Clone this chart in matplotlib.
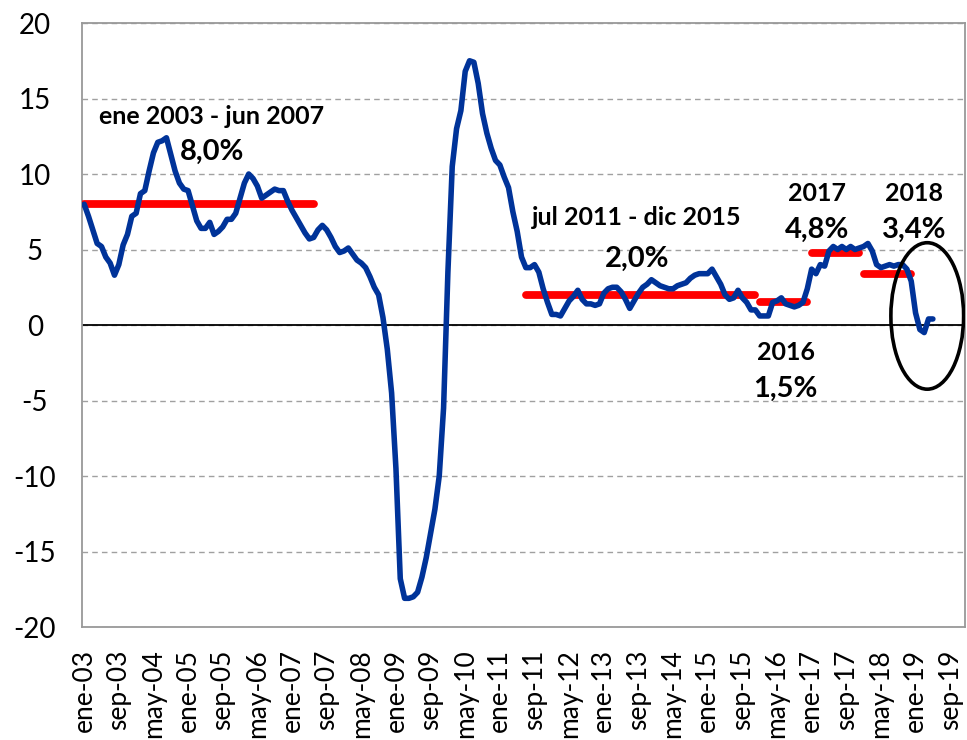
import matplotlib
matplotlib.use("Agg")
import matplotlib.pyplot as plt
from matplotlib.patches import Ellipse

plt.rcParams['font.family'] = ['Lato', 'DejaVu Sans']
plt.rcParams['axes.unicode_minus'] = False

# Monthly values from ene-03 to may-19
values = [
    8.0, 7.2, 6.3, 5.4, 5.2, 4.5, 4.1, 3.3, 4.0, 5.3, 6.0, 7.2,   # 2003
    7.4, 8.7, 8.9, 10.2, 11.4, 12.1, 12.2, 12.4, 11.3, 10.2, 9.4, 9.0,  # 2004
    8.9, 7.9, 6.9, 6.4, 6.4, 6.8, 6.0, 6.2, 6.5, 7.0, 7.0, 7.4,   # 2005
    8.4, 9.4, 10.0, 9.7, 9.2, 8.4, 8.6, 8.8, 9.0, 8.9, 8.9, 8.2,  # 2006
    7.6, 7.1, 6.6, 6.1, 5.7, 5.8, 6.3, 6.6, 6.3, 5.8, 5.2, 4.8,   # 2007
    4.9, 5.1, 4.7, 4.3, 4.1, 3.8, 3.2, 2.5, 2.0, 0.5, -1.6, -4.5,  # 2008
    -9.5, -16.8, -18.1, -18.1, -18.0, -17.7, -16.7, -15.4, -13.8, -12.2, -10.0, -5.5,  # 2009
    3.5, 10.5, 13.0, 14.2, 16.8, 17.5, 17.4, 16.0, 14.0, 12.7, 11.7, 10.9,  # 2010
    10.6, 9.8, 9.1, 7.5, 6.2, 4.5, 3.8, 3.8, 4.0, 3.5, 2.4, 1.5,   # 2011
    0.7, 0.7, 0.6, 1.1, 1.6, 1.9, 2.3, 1.7, 1.4, 1.4, 1.3, 1.4,    # 2012
    2.1, 2.4, 2.5, 2.5, 2.2, 1.7, 1.1, 1.6, 2.1, 2.5, 2.7, 3.0,    # 2013
    2.8, 2.6, 2.5, 2.4, 2.4, 2.6, 2.7, 2.8, 3.1, 3.3, 3.4, 3.4,    # 2014
    3.4, 3.7, 3.2, 2.7, 2.0, 1.7, 1.8, 2.3, 1.8, 1.5, 1.0, 1.0,    # 2015
    0.6, 0.6, 0.6, 1.5, 1.6, 1.8, 1.4, 1.3, 1.2, 1.3, 1.5, 2.4,    # 2016
    3.7, 3.4, 4.0, 3.9, 4.9, 5.2, 5.0, 5.2, 5.0, 5.2, 5.0, 5.1,    # 2017
    5.2, 5.4, 4.9, 4.0, 3.8, 3.9, 4.0, 3.9, 4.0, 4.0, 3.7, 2.9,    # 2018
    0.8, -0.3, -0.5, 0.4, 0.4,                                      # 2019
]

month_names = ['ene', 'feb', 'mar', 'abr', 'may', 'jun', 'jul', 'ago', 'sep', 'oct', 'nov', 'dic']
n_categories = 204  # ene-03 .. dic-19
cat_labels = [f"{month_names[i % 12]}-{(3 + i // 12):02d}" for i in range(n_categories)]
tick_step = 8

# Average periods
avg_starts = [0, 102, 156, 168, 180]
avg_ends = [53, 155, 167, 179, 191]
avg_values = [8.0, 2.0, 1.5, 4.8, 3.4]
avg_titles = ['ene 2003 - jun 2007', 'jul 2011 - dic 2015', '2016', '2017', '2018']
avg_texts = ['8,0%', '2,0%', '1,5%', '4,8%', '3,4%']

fig = plt.figure(figsize=(9.67, 7.40), dpi=100)
ax = fig.add_axes([0.0848, 0.1527, 0.9135, 0.8162])

ax.set_xlim(-0.5, n_categories - 0.5)
ax.set_ylim(-20, 20)
ax.set_yticks(range(-20, 21, 5))
ax.yaxis.grid(True, linestyle=(0, (4, 3)), color='#a0a0a0', linewidth=1.0)
ax.set_axisbelow(True)
ax.axhline(0, color='black', linewidth=1.3, zorder=2)

for sp in ax.spines.values():
    sp.set_color('#999999')
    sp.set_linewidth(1.3)

# Average lines
for s, e, v in zip(avg_starts, avg_ends, avg_values):
    ax.plot([s, e], [v, v], color='#ff0000', linewidth=5.6, solid_capstyle='round', zorder=3)

ax.plot(range(len(values)), values, color='#003399', linewidth=4.0,
        solid_joinstyle='round', solid_capstyle='round', zorder=4)

ticks = list(range(0, n_categories, tick_step))
ax.set_xticks(ticks)
ax.set_xticklabels([cat_labels[i] for i in ticks], rotation=90, fontsize=19)
ax.tick_params(axis='x', length=0, pad=16)
ax.tick_params(axis='y', length=0, pad=34, labelsize=20)
for lab in ax.get_yticklabels():
    lab.set_horizontalalignment('center')

# Annotations
tb = dict(fontweight='bold', ha='center', va='center', color='black', zorder=6)
title_fs = 18
pct_fs = 21
ax.text(29.5, 13.8, avg_titles[0], fontsize=title_fs, **tb)
ax.text(29.5, 11.5, avg_texts[0], fontsize=pct_fs, **tb)
ax.text(127.7, 7.1, avg_titles[1], fontsize=title_fs, **tb)
ax.text(127.7, 4.4, avg_texts[1], fontsize=pct_fs, **tb)
ax.text(162, -1.85, avg_titles[2], fontsize=title_fs, **tb)
ax.text(162, -4.2, avg_texts[2], fontsize=pct_fs, **tb)
ax.text(169.3, 8.7, avg_titles[3], fontsize=title_fs, **tb)
ax.text(169.3, 6.3, avg_texts[3], fontsize=pct_fs, **tb)
ax.text(191.7, 8.7, avg_titles[4], fontsize=title_fs, **tb)
ax.text(191.7, 6.3, avg_texts[4], fontsize=pct_fs, **tb)

ell = Ellipse((194.7, 0.6), width=16.8, height=9.7, fill=False, edgecolor='black',
              linewidth=2.6, zorder=5)
ax.add_patch(ell)

fig.savefig('out.png', dpi=100)
